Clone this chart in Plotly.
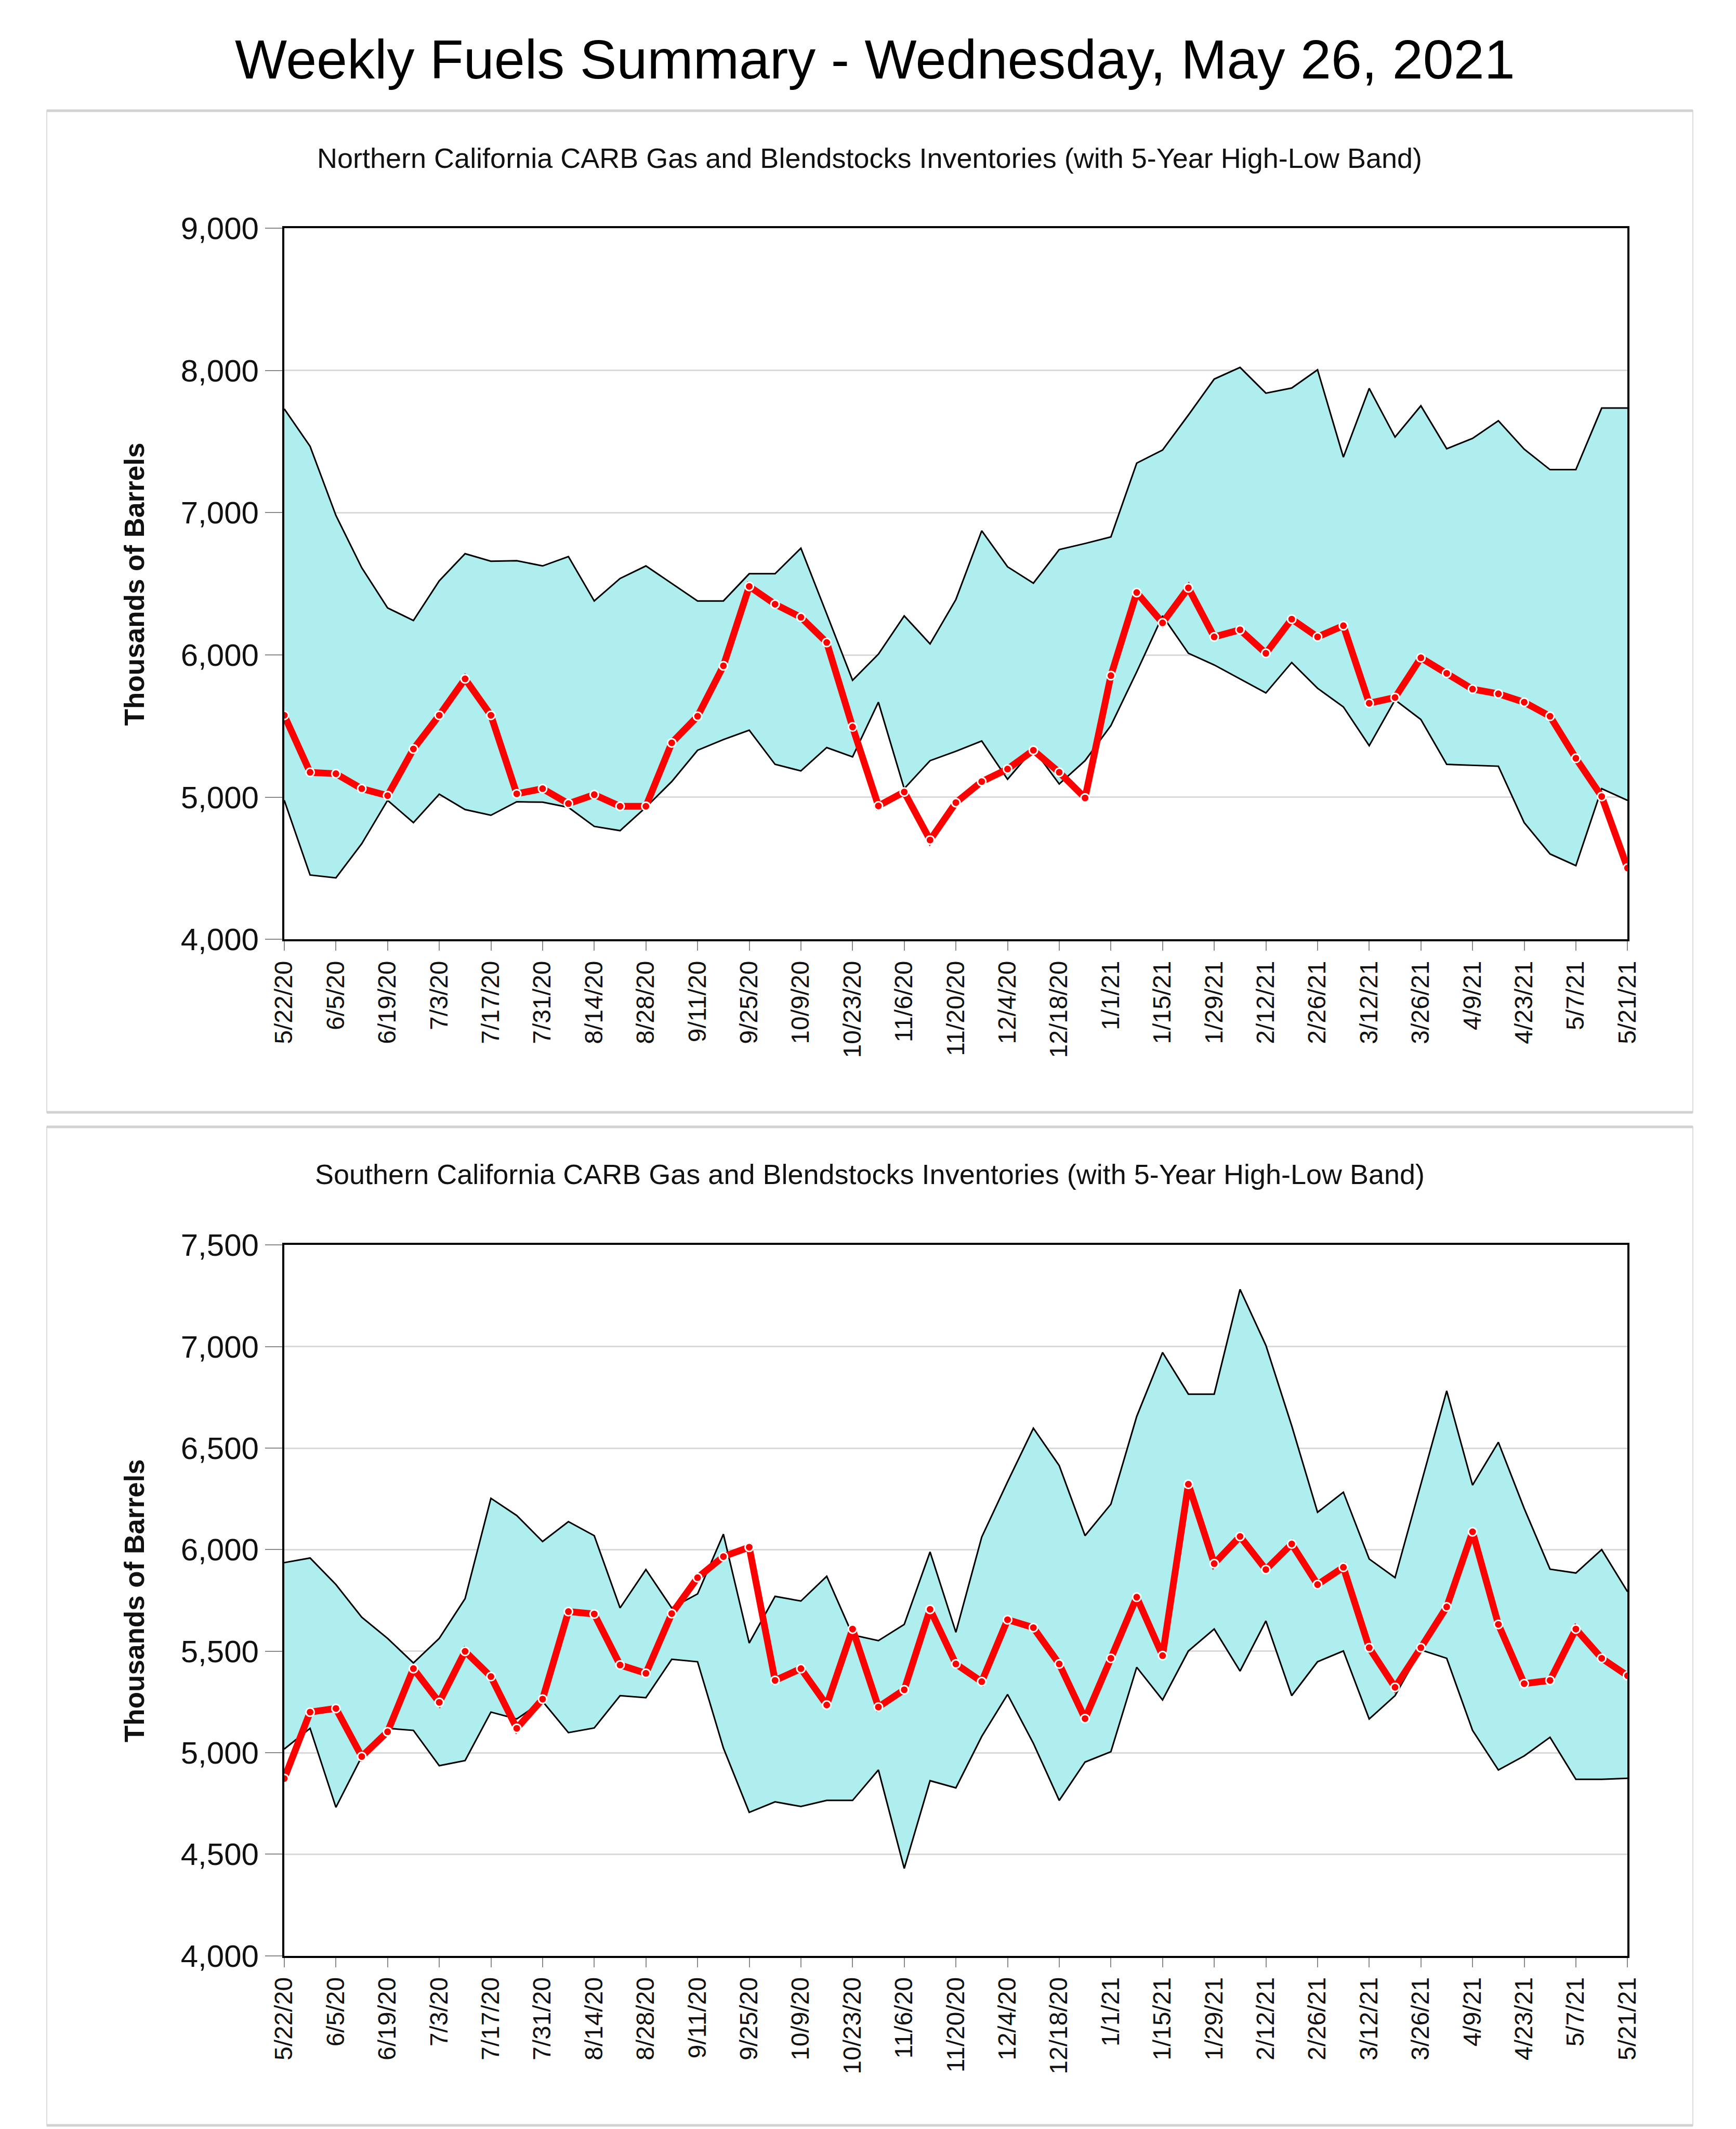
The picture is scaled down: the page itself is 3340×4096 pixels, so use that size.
import plotly.graph_objects as go

# ---------------- data ----------------
weeks = [
    "2020-05-22", "2020-05-29", "2020-06-05", "2020-06-12", "2020-06-19", "2020-06-26",
    "2020-07-03", "2020-07-10", "2020-07-17", "2020-07-24", "2020-07-31", "2020-08-07",
    "2020-08-14", "2020-08-21", "2020-08-28", "2020-09-04", "2020-09-11", "2020-09-18",
    "2020-09-25", "2020-10-02", "2020-10-09", "2020-10-16", "2020-10-23", "2020-10-30",
    "2020-11-06", "2020-11-13", "2020-11-20", "2020-11-27", "2020-12-04", "2020-12-11",
    "2020-12-18", "2020-12-25", "2021-01-01", "2021-01-08", "2021-01-15", "2021-01-22",
    "2021-01-29", "2021-02-05", "2021-02-12", "2021-02-19", "2021-02-26", "2021-03-05",
    "2021-03-12", "2021-03-19", "2021-03-26", "2021-04-02", "2021-04-09", "2021-04-16",
    "2021-04-23", "2021-04-30", "2021-05-07", "2021-05-14", "2021-05-21",
]

tick_labels = [
    "5/22/20", "6/5/20", "6/19/20", "7/3/20", "7/17/20", "7/31/20", "8/14/20",
    "8/28/20", "9/11/20", "9/25/20", "10/9/20", "10/23/20", "11/6/20", "11/20/20",
    "12/4/20", "12/18/20", "1/1/21", "1/15/21", "1/29/21", "2/12/21", "2/26/21",
    "3/12/21", "3/26/21", "4/9/21", "4/23/21", "5/7/21", "5/21/21",
]

north_high = [7730, 7467, 6981, 6613, 6331, 6242, 6521, 6712, 6659, 6663, 6626, 6692, 6380, 6538,
              6626, 6502, 6380, 6380, 6571, 6571, 6751, 6288, 5822, 6006, 6275, 6078, 6390, 6873,
              6620, 6505, 6741, 6784, 6830, 7349, 7441, 7687, 7940, 8022, 7841, 7877, 8005, 7391,
              7874, 7532, 7752, 7450, 7523, 7647, 7447, 7303, 7303, 7736, 7736]
north_low = [4978, 4453, 4433, 4673, 4978, 4821, 5021, 4913, 4873, 4968, 4965, 4929, 4795, 4765,
             4929, 5110, 5330, 5405, 5471, 5231, 5185, 5349, 5284, 5668, 5060, 5257, 5323, 5395,
             5126, 5339, 5093, 5257, 5504, 5881, 6275, 6012, 5930, 5832, 5733, 5947, 5766, 5635,
             5362, 5684, 5546, 5231, 5225, 5218, 4821, 4601, 4519, 5060, 4978]
north_cur = [5576, 5175, 5165, 5060, 5011, 5339, 5576, 5832, 5576, 5024, 5060, 4955, 5018, 4936,
             4936, 5382, 5569, 5924, 6482, 6357, 6265, 6088, 5494, 4939, 5037, 4699, 4962, 5110,
             5198, 5330, 5175, 4995, 5855, 6439, 6226, 6472, 6127, 6177, 6012, 6252, 6127, 6206,
             5661, 5701, 5980, 5871, 5760, 5727, 5668, 5569, 5274, 5005, 4502]

south_high = [5936, 5959, 5828, 5667, 5563, 5442, 5563, 5759, 6253, 6168, 6040, 6138, 6069, 5713,
              5902, 5713, 5782, 6076, 5540, 5770, 5747, 5869, 5580, 5552, 5632, 5989, 5593, 6062,
              6334, 6598, 6414, 6069, 6224, 6656, 6971, 6766, 6766, 7282, 7006, 6610, 6184, 6283,
              5954, 5862, 6322, 6782, 6318, 6529, 6203, 5904, 5885, 6000, 5793]
south_low = [5018, 5120, 4731, 4981, 5120, 5110, 4936, 4961, 5200, 5166, 5253, 5099, 5122, 5281,
             5271, 5460, 5448, 5023, 4706, 4758, 4735, 4765, 4765, 4915, 4430, 4862, 4827, 5080,
             5287, 5046, 4765, 4954, 5005, 5421, 5260, 5501, 5609, 5402, 5649, 5281, 5448, 5501,
             5166, 5281, 5506, 5465, 5110, 4915, 4984, 5076, 4869, 4869, 4874]
south_cur = [4873, 5200, 5218, 4981, 5103, 5414, 5248, 5499, 5375, 5120, 5264, 5695, 5683, 5432,
             5391, 5685, 5862, 5966, 6012, 5356, 5414, 5235, 5609, 5225, 5310, 5706, 5437, 5350,
             5655, 5616, 5437, 5168, 5465, 5766, 5478, 6322, 5931, 6065, 5902, 6028, 5828, 5913,
             5517, 5322, 5517, 5718, 6088, 5632, 5340, 5356, 5609, 5465, 5379]

main_title = "Weekly Fuels Summary - Wednesday, May 26, 2021"
north_title = "Northern California CARB Gas and Blendstocks Inventories (with 5-Year High-Low Band)"
south_title = "Southern California CARB Gas and Blendstocks Inventories (with 5-Year High-Low Band)"
y_title = "Thousands of Barrels"

# ---------------- figure ----------------
OFF = 8                      # browser body margin
W, H = 3340 - OFF, 4096 - OFF
FONT = "Liberation Sans, Arial, sans-serif"
BAND = "#afeeee"


def px(x):
    return (x - OFF) / W


def py(y):
    return 1 - (y - OFF) / H


fig = go.Figure()


def add_panel(xa, ya, low, high, cur):
    fig.add_trace(go.Scatter(x=weeks, y=low, mode="lines", xaxis=xa, yaxis=ya,
                             line=dict(color="black", width=3), showlegend=False,
                             hoverinfo="skip"))
    fig.add_trace(go.Scatter(x=weeks, y=high, mode="lines", xaxis=xa, yaxis=ya,
                             line=dict(color="black", width=3), fill="tonexty",
                             fillcolor=BAND, showlegend=False, hoverinfo="skip"))
    fig.add_trace(go.Scatter(x=weeks, y=cur, mode="lines+markers", xaxis=xa, yaxis=ya,
                             line=dict(color="#ff0000", width=13),
                             marker=dict(color="#ff0000", size=16,
                                         line=dict(color="white", width=3)),
                             showlegend=False))


add_panel("x", "y", north_low, north_high, north_cur)
add_panel("x2", "y2", south_low, south_high, south_cur)

xd = [px(546.9), px(3131.3)]
top_dom = [py(1807.4), py(439.2)]
bot_dom = [py(3762.7), py(2395.4)]

xcommon = dict(
    type="date", range=[weeks[0], weeks[-1]], tickvals=weeks[::2], ticktext=tick_labels,
    tickangle=-90, ticks="outside", ticklen=18, tickwidth=2, tickcolor="#8a8a8a",
    showline=True, linecolor="black", linewidth=4, mirror=True, showgrid=False,
    zeroline=False, tickfont=dict(family=FONT, size=48, color="#111"), automargin=False,
    domain=xd,
)
ycommon = dict(
    ticks="outside", ticklen=33, tickwidth=2, tickcolor="#8a8a8a", tickformat=",",
    showgrid=True, gridcolor="#d9d9d9", gridwidth=2.5, showline=True, linecolor="black",
    linewidth=4, mirror=True, zeroline=False,
    tickfont=dict(family=FONT, size=60, color="#111"), automargin=False,
)

fig.update_layout(
    width=W, height=H, margin=dict(l=0, r=0, t=0, b=0),
    paper_bgcolor="white", plot_bgcolor="white",
    font=dict(family=FONT, color="black"),
    xaxis=dict(**xcommon, anchor="y"),
    yaxis=dict(**ycommon, domain=top_dom, range=[4000, 9000], dtick=1000, anchor="x"),
    xaxis2=dict(**xcommon, anchor="y2"),
    yaxis2=dict(**ycommon, domain=bot_dom, range=[4000, 7500], dtick=500, anchor="x2"),
)

# panel frames
panels = [(213, 2140), (2168, 4089)]
shapes = []
for top, bot in panels:
    x0, x1 = px(90), px(3257)
    y0, y1 = py(bot), py(top)
    shapes.append(dict(type="rect", xref="paper", yref="paper", x0=x0, x1=x1, y0=y0, y1=y1,
                       line=dict(color="#dcdcdc", width=2), layer="below"))
    for yy in (y0, y1):
        shapes.append(dict(type="line", xref="paper", yref="paper", x0=x0, x1=x1, y0=yy, y1=yy,
                           line=dict(color="#d2d2d2", width=5), layer="below"))
fig.update_layout(shapes=shapes)

annotations = [
    dict(text=main_title, x=px(1684), y=py(114), xref="paper", yref="paper",
         showarrow=False, xanchor="center", yanchor="middle",
         font=dict(family=FONT, size=106, color="black")),
    dict(text=north_title, x=px(1673), y=py(304), xref="paper", yref="paper",
         showarrow=False, xanchor="center", yanchor="middle",
         font=dict(family=FONT, size=54, color="#111")),
    dict(text=south_title, x=px(1673), y=py(2259), xref="paper", yref="paper",
         showarrow=False, xanchor="center", yanchor="middle",
         font=dict(family=FONT, size=54, color="#111")),
    dict(text="<b>" + y_title + "</b>", x=px(258), y=(top_dom[0] + top_dom[1]) / 2,
         xref="paper", yref="paper", showarrow=False, textangle=-90,
         xanchor="center", yanchor="middle", font=dict(family=FONT, size=53, color="#111")),
    dict(text="<b>" + y_title + "</b>", x=px(258), y=(bot_dom[0] + bot_dom[1]) / 2,
         xref="paper", yref="paper", showarrow=False, textangle=-90,
         xanchor="center", yanchor="middle", font=dict(family=FONT, size=53, color="#111")),
]
fig.update_layout(annotations=annotations)

fig.write_html("out.html")
